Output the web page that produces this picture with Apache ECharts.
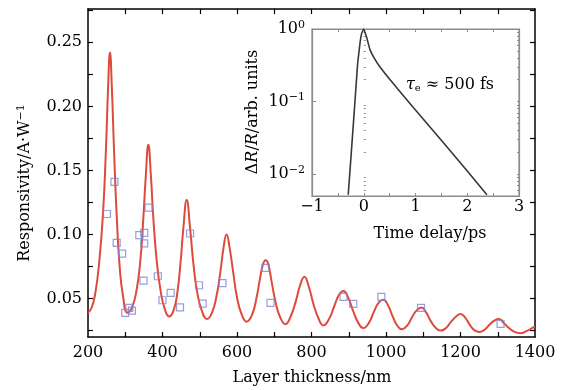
<!DOCTYPE html>
<html><head><meta charset="utf-8">
<script src="https://cdn.jsdelivr.net/npm/echarts@6/dist/echarts.min.js"></script>
<style>html,body{margin:0;padding:0;background:#fff}#c{width:578px;height:390px}</style>
</head><body><div id="c"></div>
<script>
// ---- main fitted curve (layer thickness nm, responsivity A/W) ----
const thickness = [200,210,220,230,240,248,254,259,264,270,277,285,294,306,318,330,340,348,355,362,369,376,385,395,406,418,430,440,449,456,465,474,482,492,505,520,533,545,555,564,572,580,590,600,612,626,640,652,662,670,677,684,693,703,715,730,744,758,769,781,793,805,818,832,847,861,874,886,898,911,924,939,954,968,981,993,1005,1018,1030,1043,1057,1071,1083,1095,1108,1121,1134,1147,1161,1175,1188,1200,1213,1226,1239,1252,1266,1279,1292,1303,1316,1330,1345,1362,1380,1392,1400];
const responsivityFit = [0.039,0.043,0.055,0.078,0.115,0.165,0.215,0.242,0.215,0.165,0.115,0.075,0.052,0.039,0.043,0.056,0.078,0.110,0.145,0.170,0.145,0.110,0.078,0.056,0.042,0.036,0.041,0.055,0.080,0.105,0.127,0.105,0.080,0.057,0.041,0.034,0.039,0.052,0.070,0.090,0.100,0.090,0.070,0.051,0.038,0.032,0.037,0.050,0.066,0.077,0.080,0.077,0.063,0.048,0.036,0.030,0.036,0.048,0.060,0.067,0.059,0.046,0.035,0.029,0.034,0.044,0.053,0.056,0.051,0.041,0.032,0.027,0.031,0.040,0.047,0.049,0.045,0.036,0.029,0.026,0.029,0.036,0.041,0.043,0.039,0.032,0.027,0.025,0.027,0.032,0.036,0.038,0.035,0.029,0.025,0.024,0.026,0.030,0.033,0.034,0.031,0.027,0.024,0.023,0.025,0.027,0.028];
// ---- measured points ----
const measThickness = [251,271,277,291.5,300,311,318,337.7,351,351,349,362.7,387.5,400,422,447,474,498,508,561,676.5,690,886,912,987.5,1094,1307.5];
const measResp = [0.116,0.141,0.0935,0.085,0.0388,0.0427,0.0406,0.0995,0.1013,0.093,0.064,0.121,0.0674,0.0487,0.0545,0.0432,0.1008,0.0604,0.046,0.062,0.074,0.0466,0.0513,0.0458,0.0513,0.0427,0.0302];
// ---- inset: pump-probe transient ----
const delay = [-0.30,-0.25,-0.20,-0.15,-0.117,-0.07,-0.04,0,0.06,0.12,0.20,0.30,0.51,0.95,1.47,1.96,2.38];
const deltaR = [0.0052,0.016,0.05,0.16,0.34,0.66,0.87,1.0,0.75,0.52,0.40,0.31,0.20,0.084,0.031,0.012,0.0052];
// ---- tick labels ----
const xTickLabels = [200,400,600,800,1000,1200,1400];
const xTickMarks = [300,400,500,600,700,800,900,1000,1100,1200,1300];
const yTickLabels = [0.05,0.10,0.15,0.20,0.25];
const yTickMarks = [0.025,0.05,0.075,0.10,0.125,0.15,0.175,0.20,0.225,0.25,0.275];
const insetXTickLabels = [-1,0,1,2,3];
const insetXTickMarks = [-0.5,0,0.5,1,1.5,2,2.5];
const insetYTickLabels = [0.01,0.1,1];
const insetYMinor = [0.006,0.007,0.008,0.009,0.02,0.03,0.04,0.05,0.06,0.07,0.08,0.09,0.2,0.3,0.4,0.5,0.6,0.7,0.8,0.9];

const FF = 'DejaVu Serif';
const chart = echarts.init(document.getElementById('c'));
const blk = {color:'#000', width:1.5};
const gry = {color:'#8c8c8c', width:1.2};
function mainAxis(pos, extra){
  return Object.assign({gridIndex:0, type:'value', position:pos, splitLine:{show:false},
    axisLine:{show:true, onZero:false, lineStyle:blk}}, extra);
}
function sup(e){ return e < 0 ? '\u2212' + (-e) : String(e); }
const option = {
  animation:false,
  backgroundColor:'#fff',
  grid:[
    {left:88, top:9, width:447, height:328},
    {left:312, top:29, width:207, height:167, show:true, backgroundColor:'#fff', borderColor:'#8c8c8c', borderWidth:1.2, z:5}
  ],
  xAxis:[
    mainAxis('bottom',{min:200,max:1400,
      axisTick:{inside:true,length:5,customValues:xTickMarks,lineStyle:{color:'#000',width:1.2}},
      axisLabel:{customValues:xTickLabels,fontFamily:FF,fontSize:16,color:'#000',margin:8,formatter:v=>String(v)}}),
    mainAxis('top',{min:200,max:1400,
      axisTick:{inside:true,length:5,customValues:xTickMarks,lineStyle:{color:'#000',width:1.2}},
      axisLabel:{show:false}}),
    {gridIndex:1,type:'value',position:'bottom',min:-1,max:3,z:6,splitLine:{show:false},
      axisLine:{show:true,onZero:false,lineStyle:gry},
      axisTick:{inside:true,length:3,customValues:insetXTickMarks,lineStyle:{color:'#8c8c8c'}},
      axisLabel:{customValues:insetXTickLabels,fontFamily:FF,fontSize:16,color:'#000',margin:3,
        formatter:v=>v<0?'\u2212'+(-v):String(v)}},
    {gridIndex:1,type:'value',position:'top',min:-1,max:3,z:6,splitLine:{show:false},
      axisLine:{show:true,onZero:false,lineStyle:gry},
      axisTick:{inside:true,length:3,customValues:insetXTickMarks,lineStyle:{color:'#8c8c8c'}},
      axisLabel:{show:false}}
  ],
  yAxis:[
    mainAxis('left',{min:0.02,max:0.276,
      axisTick:{inside:true,length:5,customValues:yTickMarks,lineStyle:{color:'#000',width:1.2}},
      axisLabel:{customValues:yTickLabels,fontFamily:FF,fontSize:16,color:'#000',margin:6,formatter:v=>v.toFixed(2)}}),
    mainAxis('right',{min:0.02,max:0.276,
      axisTick:{inside:true,length:5,customValues:yTickMarks,lineStyle:{color:'#000',width:1.2}},
      axisLabel:{show:false}}),
    {gridIndex:1,type:'log',logBase:10,position:'left',min:0.005,max:1,z:6,splitLine:{show:false},
      axisLine:{show:true,onZero:false,lineStyle:gry},
      axisTick:{inside:true,length:4,customValues:insetYTickLabels,lineStyle:{color:'#8c8c8c'}},
      axisLabel:{customValues:insetYTickLabels,color:'#000',margin:7,
        formatter:v=>'{b|10}{s|'+sup(Math.round(Math.log10(v)))+'}',
        rich:{b:{fontFamily:FF,fontSize:16,color:'#000'},s:{fontFamily:FF,fontSize:11,color:'#000',verticalAlign:'top',padding:[0,0,8,0]}}}},
    {gridIndex:1,type:'log',logBase:10,position:'left',offset:0,min:0.005,max:1,z:6,splitLine:{show:false},
      axisLine:{show:false},
      axisTick:{inside:true,length:2,customValues:insetYMinor,lineStyle:{color:'#8c8c8c'}},
      axisLabel:{show:false}},
    {gridIndex:1,type:'log',logBase:10,position:'right',min:0.005,max:1,z:6,splitLine:{show:false},
      axisLine:{show:true,onZero:false,lineStyle:gry},
      axisTick:{inside:true,length:2,customValues:insetYMinor.concat(insetYTickLabels),lineStyle:{color:'#8c8c8c'}},
      axisLabel:{show:false}}
  ],
  series:[
    {type:'line',xAxisIndex:0,yAxisIndex:0,data:thickness.map((x,i)=>[x,responsivityFit[i]]),
      smooth:0.5,showSymbol:false,lineStyle:{color:'#de4a3b',width:2},z:2},
    {type:'scatter',xAxisIndex:0,yAxisIndex:0,data:measThickness.map((x,i)=>[x,measResp[i]]),
      symbol:'rect',symbolSize:7,itemStyle:{color:'rgba(0,0,0,0)',borderColor:'#7f86cf',borderWidth:1.2},z:3},
    {type:'line',xAxisIndex:2,yAxisIndex:2,data:delay.map((x,i)=>[x,deltaR[i]]),
      smooth:0.1,showSymbol:false,lineStyle:{color:'#383838',width:1.6},z:7}
  ],
  graphic:[
    {type:'text',x:312,y:378,z:10,style:{text:'Layer thickness/nm',font:'16px "DejaVu Serif"',fill:'#000',align:'center',verticalAlign:'middle'}},
    {type:'text',x:25,y:183,rotation:Math.PI/2,z:10,style:{text:'Responsivity/A·W{s|\u22121}',font:'16px "DejaVu Serif"',fill:'#000',align:'center',verticalAlign:'middle',
      rich:{s:{fontFamily:FF,fontSize:11,fill:'#000',verticalAlign:'top',padding:[0,0,8,0]}}}},
    {type:'text',x:430,y:234,z:10,style:{text:'Time delay/ps',font:'16px "DejaVu Serif"',fill:'#000',align:'center',verticalAlign:'middle'}},
    {type:'text',x:253,y:112,rotation:Math.PI/2,z:10,style:{text:'Δ{i|R}/{i|R}/arb. units',font:'16px "DejaVu Serif"',fill:'#000',align:'center',verticalAlign:'middle',
      rich:{i:{fontFamily:FF,fontStyle:'italic',fontSize:16,fill:'#000'}}}},
    {type:'text',x:450,y:85,z:10,style:{text:'{i|τ}{sub|e} ≈ 500 fs',font:'16px "DejaVu Serif"',fill:'#000',align:'center',verticalAlign:'middle',
      rich:{i:{fontFamily:FF,fontStyle:'italic',fontSize:16,fill:'#000'},sub:{fontFamily:FF,fontSize:10,fill:'#000',verticalAlign:'bottom',padding:[6,0,0,0]}}}}
  ]
};
chart.setOption(option);
</script></body></html>
